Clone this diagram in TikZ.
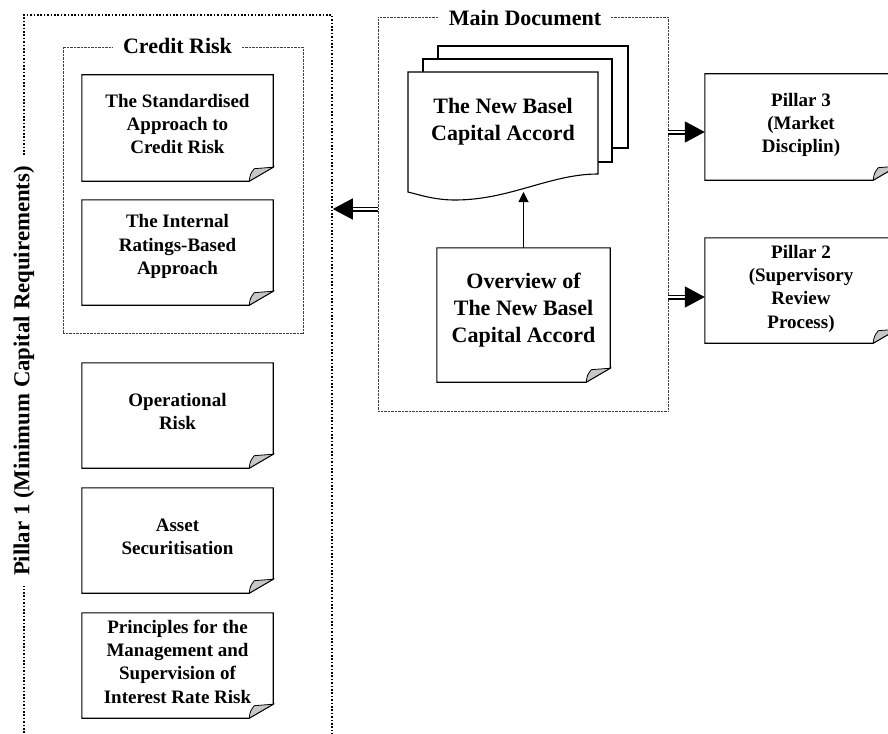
\documentclass[tikz,border=0pt]{standalone}
\usepackage{fontspec}
\setmainfont{Liberation Serif}
\usetikzlibrary{arrows.meta,calc}
\newcommand\foldoutline[1]{%
  \draw[boxline] (#1.north west) -- (#1.north east) -- ([yshift=14pt]#1.south east)
    -- ([xshift=-24pt]#1.south east) -- (#1.south west) -- cycle;
  \draw[foldfill] ([xshift=-24pt]#1.south east) .. controls ([xshift=-23pt,yshift=7pt]#1.south east)
    .. ([xshift=-19pt,yshift=12.5pt]#1.south east) -- ([yshift=14pt]#1.south east) -- cycle;}
\begin{document}
\begin{tikzpicture}[x=1pt,y=-1pt,
  boxline/.style={draw=black, line width=1.1pt, line join=miter},
  foldfill/.style={fill=black!22, draw=black, line width=0.8pt},
  docbox/.style={rectangle, inner sep=0pt, minimum width=191pt, minimum height=105pt},
  boxtext/.style={align=center, inner sep=0pt, yshift=4pt, font=\bfseries\fontsize{19}{23.3}\selectfont},
  bigtext/.style={align=center, inner sep=0pt, font=\bfseries\fontsize{22}{27}\selectfont},
  bigcont/.style={rectangle, draw=black, line width=1.6pt, dash pattern=on 1.6pt off 1.8pt},
  thincont/.style={rectangle, draw=black!75, line width=0.7pt, dash pattern=on 0.7pt off 0.7pt},
  titletext/.style={fill=white, inner xsep=10pt, inner ysep=2pt, font=\bfseries\fontsize{22}{26}\selectfont},
  dblarrow/.style={draw=black, double=white, double distance=1.6pt, line width=1.7pt, -{Triangle[length=20pt,width=21pt]}},
  onearrow/.style={draw=black, line width=1pt, -{Triangle[length=10pt,width=10pt]}}
]
\useasboundingbox (0,0) rectangle (888,733);

% containers
\node[bigcont, minimum width=308pt, minimum height=745pt] (p1box) at (178,387.5) {};
\node[thincont, minimum width=240pt, minimum height=286pt] (credit) at (183,190) {};
\node[thincont, minimum width=290pt, minimum height=394pt] (main) at (523,214) {};

% container titles
\node[titletext, rotate=90, font=\bfseries\fontsize{22.8}{26}\selectfont] (p1label) at (24,371) {Pillar 1 (Minimum Capital Requirements)};
\node[titletext, anchor=base] (crtitle) at (177.5,54) {Credit Risk};
\node[titletext, anchor=base] (maintitle) at (525,26) {Main Document};

% pages of the main document
\draw[boxline, fill=white] (438,46) rectangle (628,148);
\draw[boxline, fill=white] (423,59) rectangle (612,162);
\draw[boxline, fill=white] (408,72) -- (598,72) -- (598,174)
  .. controls (550,174) and (510,200) .. (455,200)
  .. controls (435,200) and (420,195) .. (408,192) -- cycle;
\node[bigtext] (doc) at (503,122) {The New Basel\\Capital Accord};
\coordinate (docbottom) at (523.5,192);

% folded boxes
\node[docbox, minimum height=106pt, label={[boxtext]center:{The Standardised\\Approach to\\Credit Risk}}] (std) at (177.5,128) {};
\node[docbox, label={[boxtext, yshift=2pt]center:{The Internal\\Ratings-Based\\Approach}}] (irb) at (177.5,252.5) {};
\node[docbox, label={[boxtext]center:{Operational\\Risk}}] (op) at (177.5,415.5) {};
\node[docbox, label={[boxtext]center:{Asset\\Securitisation}}] (asset) at (177.5,540.5) {};
\node[docbox, label={[boxtext]center:{Principles for the\\Management and\\Supervision of\\Interest Rate Risk}}] (princ) at (177.5,665.5) {};
\node[docbox, minimum width=173pt, minimum height=134pt, label={[bigtext, yshift=5pt]center:{Overview of\\The New Basel\\Capital Accord}}] (ov) at (523.5,315) {};
\node[docbox, minimum width=192pt, minimum height=106pt, label={[boxtext, yshift=-2pt]center:{Pillar 3\\(Market\\Disciplin)}}] (p3) at (801,127) {};
\node[docbox, minimum width=192pt, label={[boxtext, yshift=-2pt]center:{Pillar 2\\(Supervisory\\Review\\Process)}}] (p2) at (801,290.5) {};

\foldoutline{std}
\foldoutline{irb}
\foldoutline{op}
\foldoutline{asset}
\foldoutline{princ}
\foldoutline{ov}
\foldoutline{p3}
\foldoutline{p2}

% connectors
\draw[onearrow] (ov.north) -- (docbottom);
\draw[dblarrow] (main.west |- 0,209) -- (p1box.east |- 0,209);
\draw[dblarrow] (main.east |- 0,132) -- (p3.west |- 0,132);
\draw[dblarrow] (main.east |- 0,297) -- (p2.west |- 0,297);
\end{tikzpicture}
\end{document}
